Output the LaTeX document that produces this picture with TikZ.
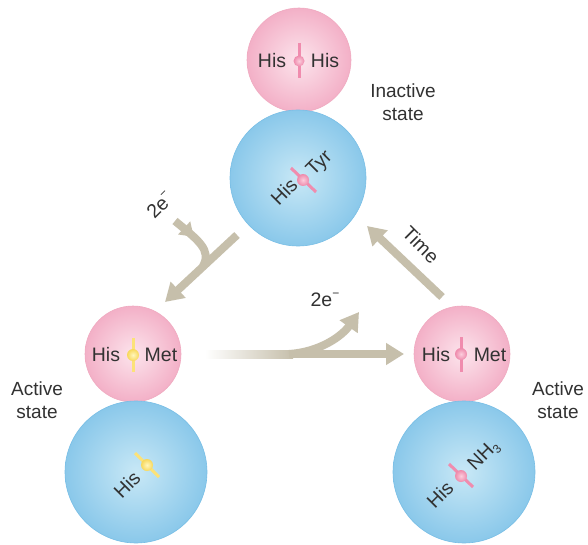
\documentclass[tikz,border=0pt]{standalone}
\usepackage{fontspec}
\setmainfont{Liberation Sans}
\usetikzlibrary{arrows.meta,decorations.markings}
\definecolor{tanc}{RGB}{198,191,171}
\definecolor{txt}{RGB}{50,50,50}
\definecolor{pinkin}{RGB}{252,228,236}
\definecolor{pinkout}{RGB}{243,176,199}
\definecolor{pinkedge}{RGB}{240,170,192}
\definecolor{bluein}{RGB}{200,232,246}
\definecolor{blueout}{RGB}{138,200,234}
\definecolor{blueedge}{RGB}{120,190,230}
\definecolor{pbar}{RGB}{240,140,174}
\definecolor{pdotin}{RGB}{252,205,221}
\definecolor{pdotout}{RGB}{238,138,172}
\definecolor{ybar}{RGB}{252,226,120}
\definecolor{ydotin}{RGB}{255,246,190}
\definecolor{ydotout}{RGB}{248,216,90}
\tikzset{
  pinkball/.style={circle, inner sep=0pt, inner color=pinkin, outer color=pinkout, draw=pinkedge, line width=0.6pt},
  blueball/.style={circle, inner sep=0pt, inner color=bluein, outer color=blueout, draw=blueedge, line width=0.6pt},
  lbl/.style={text=txt, font=\fontsize{19.5}{21}\selectfont, inner sep=0pt},
  side/.style={text=txt, font=\fontsize{19}{23}\selectfont, align=center, inner sep=0pt},
  pbarline/.style={draw=pbar, line width=3pt},
  ybarline/.style={draw=ybar, line width=3pt},
  pdot/.style={circle, inner sep=0pt, minimum size=12pt, inner color=pdotin, outer color=pdotout},
  ydot/.style={circle, inner sep=0pt, minimum size=12pt, inner color=ydotin, outer color=ydotout},
  flow/.style={draw=tanc, line width=8pt, -{Triangle[length=18pt,width=21pt]}},
  flowplain/.style={draw=tanc, line width=8pt},
}
\begin{document}
\begin{tikzpicture}[x=1pt,y=-1pt]
\useasboundingbox (0,0) rectangle (588,545);
\fill[white] (0,0) rectangle (588,545);

% spheres
\node[pinkball, minimum size=104pt] (ptop) at (299,60) {};
\node[blueball, minimum size=136pt] (btop) at (298,178) {};
\node[pinkball, minimum size=96pt] (pleft) at (133,354) {};
\node[blueball, minimum size=142pt] (bleft) at (136,472) {};
\node[pinkball, minimum size=96pt] (pright) at (462,354) {};
\node[blueball, minimum size=142pt] (bright) at (464,472) {};

% top pink: His - His
\coordinate (tb1) at (299,43); \coordinate (tb2) at (299,78);
\draw[pbarline] (tb1) -- (tb2);
\node[pdot, minimum size=11pt] (tdot) at (299,61) {};
\node[lbl] (th1) at (272,61) {His};
\node[lbl] (th2) at (325,61) {His};

% top blue: His - Tyr
\coordinate (ub1) at (291,168); \coordinate (ub2) at (316,192);
\draw[pbarline] (ub1) -- (ub2);
\node[pdot] (udot) at (303,180) {};
\node[lbl, rotate=45] (uh) at (284,192) {His};
\node[lbl, rotate=45] (ut) at (320,164) {Tyr};

% left pink: His - Met (yellow)
\coordinate (lb1) at (133,338); \coordinate (lb2) at (133,372);
\draw[ybarline] (lb1) -- (lb2);
\node[ydot] (ldot) at (133,355) {};
\node[lbl] (lh) at (106,355) {His};
\node[lbl] (lm) at (161,355) {Met};

% left blue: His (yellow)
\coordinate (mb1) at (135,453); \coordinate (mb2) at (159,477);
\draw[ybarline] (mb1) -- (mb2);
\node[ydot] (mdot) at (147,465) {};
\node[lbl, rotate=45] (mh) at (127,485) {His};

% right pink: His - Met
\coordinate (rb1) at (461,337); \coordinate (rb2) at (461,372);
\draw[pbarline] (rb1) -- (rb2);
\node[pdot] (rdot) at (461,354) {};
\node[lbl] (rh) at (436,355) {His};
\node[lbl] (rm) at (490,355) {Met};

% right blue: His - NH3
\coordinate (sb1) at (449,464); \coordinate (sb2) at (473,487);
\draw[pbarline] (sb1) -- (sb2);
\node[pdot] (sdot) at (461,476) {};
\node[lbl, rotate=45] (sh) at (440,495) {His};
\node[lbl, rotate=45] (sn) at (484,456) {NH\raisebox{-0.35ex}{\fontsize{12}{13}\selectfont 3}};

% side labels
\node[side] (inact) at (403,102) {Inactive\\state};
\node[side] (actl) at (37,400) {Active\\state};
\node[side] (actr) at (558,400) {Active\\state};

% left arrow (inactive -> active left)
\coordinate (la1) at (237,235);
\coordinate (la2) at (165,302);
\draw[flow] (la1) -- (la2);
% electron input on left
\coordinate (li1) at (175,221);
\coordinate (li2) at (203,266);
\draw[flowplain, decoration={markings, mark=at position 0.42 with {\arrow{Triangle[length=13pt,width=17pt]}}}, postaction={decorate}]
  (li1) .. controls (198,240) and (212,250) .. (li2);
\node[lbl, rotate=45] (e1) at (160,205) {2e\raisebox{0.9ex}{\fontsize{12}{13}\selectfont −}};

% bottom arrow (active left -> active right)
\coordinate (ba0) at (205,354);
\coordinate (ba1) at (293,354);
\coordinate (ba2) at (404,354);
\shade[left color=white, right color=tanc] ([yshift=4pt]ba0) rectangle ([yshift=-4pt]ba1);
\draw[flow] (ba1) -- (ba2);
\coordinate (bo2) at (359,312);
\draw[flow] ([xshift=-4pt]ba1) .. controls (320,352) and (342,336) .. (bo2);
\node[lbl] (e2) at (325,300) {2e\raisebox{0.9ex}{\fontsize{12}{13}\selectfont −}};

% time arrow
\coordinate (ta1) at (442,297);
\coordinate (ta2) at (367,226);
\draw[flow] (ta1) -- (ta2);
\node[lbl, rotate=-45] (time) at (421,245) {Time};
\end{tikzpicture}
\end{document}
